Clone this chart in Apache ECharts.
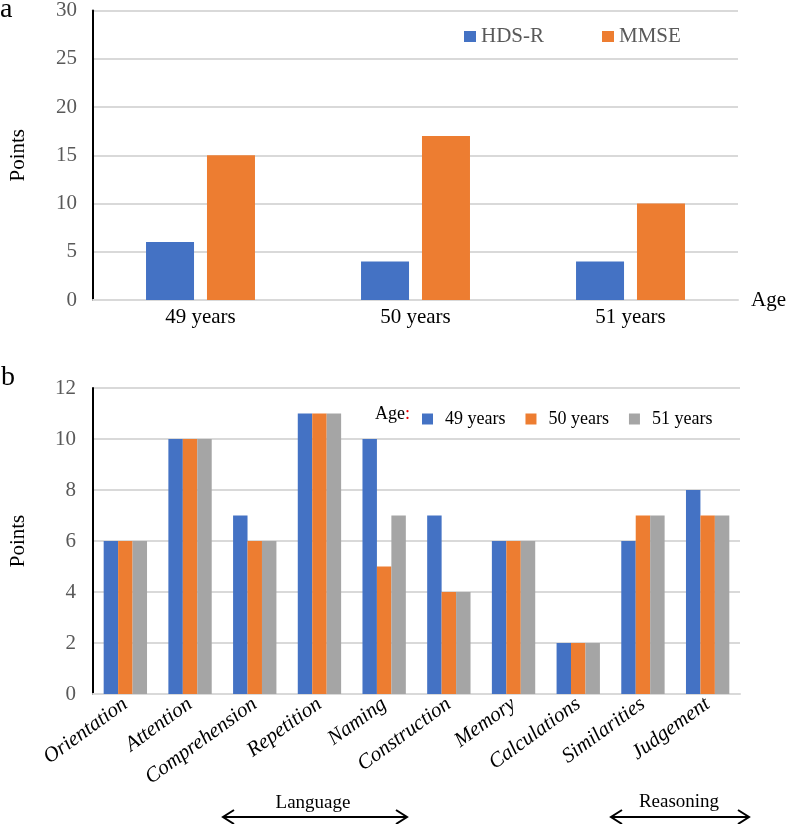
<!DOCTYPE html>
<html>
<head>
<meta charset="utf-8">
<script src="https://cdn.jsdelivr.net/npm/echarts@6/dist/echarts.min.js"></script>
<style>
html,body{margin:0;padding:0;background:#fff;}
#chart{width:787px;height:824px;}
</style>
</head>
<body>
<div id="chart"></div>
<script>
// ---- Panel a data ----
const ageCategories = ['49 years', '50 years', '51 years'];
const hdsrScores = [6, 4, 4];
const mmseScores = [15, 17, 10];

// ---- Panel b data ----
const domains = ['Orientation', 'Attention', 'Comprehension', 'Repetition', 'Naming',
  'Construction', 'Memory', 'Calculations', 'Similarities', 'Judgement'];
const age49 = [6, 10, 7, 11, 10, 7, 6, 2, 6, 8];
const age50 = [6, 10, 6, 11, 5, 4, 6, 2, 7, 7];
const age51 = [6, 10, 6, 11, 7, 4, 6, 2, 7, 7];

const BLUE = '#4472C4', ORANGE = '#ED7D31', GRAY = '#A5A5A5';
const SERIF = '"Liberation Serif", "Times New Roman", serif';
const GRID_LINE = '#d9d9d9';

const chart = echarts.init(document.getElementById('chart'), null, {renderer: 'canvas'});

function arrow(x1, x2, y) {
  const h = 11, v = 7;
  return [
    {type: 'line', shape: {x1: x1, y1: y, x2: x2, y2: y}, style: {stroke: '#000', lineWidth: 2}},
    {type: 'polyline', shape: {points: [[x1 + h, y - v], [x1, y], [x1 + h, y + v]]}, style: {stroke: '#000', lineWidth: 2, fill: null}},
    {type: 'polyline', shape: {points: [[x2 - h, y - v], [x2, y], [x2 - h, y + v]]}, style: {stroke: '#000', lineWidth: 2, fill: null}}
  ];
}

const option = {
  backgroundColor: '#fff',
  animation: false,
  textStyle: {fontFamily: SERIF},
  grid: [
    {left: 93, right: 48, top: 10, bottom: 524},
    {left: 93, right: 47, top: 388, bottom: 130}
  ],
  legend: [
    {
      data: ['HDS-R', 'MMSE'],
      left: 459, top: 21,
      icon: 'rect', itemWidth: 12, itemHeight: 11, itemGap: 58,
      textStyle: {fontFamily: SERIF, fontSize: 21, color: '#595959'}
    },
    {
      data: ['49 years', '50 years', '51 years'],
      left: 417, top: 405,
      icon: 'rect', itemWidth: 11, itemHeight: 11, itemGap: 20,
      textStyle: {fontFamily: SERIF, fontSize: 18, color: '#000', padding: [0, 0, 0, 7]}
    }
  ],
  xAxis: [
    {
      gridIndex: 0, type: 'category', data: ageCategories,
      name: 'Age', nameLocation: 'end', nameGap: 13,
      nameTextStyle: {fontFamily: SERIF, fontSize: 21, color: '#000', padding: [0, 0, 10, 0]},
      axisLine: {lineStyle: {color: GRID_LINE, width: 2}},
      axisTick: {show: false},
      axisLabel: {fontFamily: SERIF, fontSize: 21, color: '#000', margin: 7}
    },
    {
      gridIndex: 1, type: 'category', data: domains,
      axisLine: {lineStyle: {color: GRID_LINE, width: 2}},
      axisTick: {show: false},
      axisLabel: {fontFamily: SERIF, fontSize: 21, fontStyle: 'italic', color: '#000', rotate: 36, margin: 8, interval: 0}
    }
  ],
  yAxis: [
    {
      gridIndex: 0, type: 'value', min: 0, max: 30, interval: 5,
      name: 'Points', nameLocation: 'middle', nameGap: 64,
      nameTextStyle: {fontFamily: SERIF, fontSize: 21, color: '#000'},
      axisLine: {show: true, lineStyle: {color: '#000', width: 2}},
      axisTick: {show: false},
      axisLabel: {fontFamily: SERIF, fontSize: 21, color: '#595959', margin: 16},
      splitLine: {lineStyle: {color: GRID_LINE, width: 2}}
    },
    {
      gridIndex: 1, type: 'value', min: 0, max: 12, interval: 2,
      name: 'Points', nameLocation: 'middle', nameGap: 64,
      nameTextStyle: {fontFamily: SERIF, fontSize: 21, color: '#000'},
      axisLine: {show: true, lineStyle: {color: '#000', width: 2}},
      axisTick: {show: false},
      axisLabel: {fontFamily: SERIF, fontSize: 21, color: '#595959', margin: 17},
      splitLine: {lineStyle: {color: GRID_LINE, width: 2}}
    }
  ],
  series: [
    {name: 'HDS-R', type: 'bar', xAxisIndex: 0, yAxisIndex: 0, data: hdsrScores,
      barWidth: 48, barGap: '27%', itemStyle: {color: BLUE}},
    {name: 'MMSE', type: 'bar', xAxisIndex: 0, yAxisIndex: 0, data: mmseScores,
      barWidth: 48, barGap: '27%', itemStyle: {color: ORANGE}},
    {name: '49 years', type: 'bar', xAxisIndex: 1, yAxisIndex: 1, data: age49,
      barGap: 0, barCategoryGap: '33%', itemStyle: {color: BLUE}},
    {name: '50 years', type: 'bar', xAxisIndex: 1, yAxisIndex: 1, data: age50,
      barGap: 0, barCategoryGap: '33%', itemStyle: {color: ORANGE}},
    {name: '51 years', type: 'bar', xAxisIndex: 1, yAxisIndex: 1, data: age51,
      barGap: 0, barCategoryGap: '33%', itemStyle: {color: GRAY}}
  ],
  graphic: [
    {type: 'text', left: 0, top: -4, style: {text: 'a', fontFamily: SERIF, fontSize: 28, fill: '#000'}},
    {type: 'text', left: 1, top: 364, style: {text: 'b', fontFamily: SERIF, fontSize: 28, fill: '#000'}},
    {type: 'text', left: 375, top: 405, style: {
      text: '{a|Age}{b|:}', rich: {
        a: {fontFamily: SERIF, fontSize: 18, fill: '#000', color: '#000'},
        b: {fontFamily: SERIF, fontSize: 18, fill: '#e00', color: '#e00'}
      }}},
    {type: 'text', x: 313, y: 803, style: {text: 'Language', fontFamily: SERIF, fontSize: 19, fill: '#000', align: 'center', verticalAlign: 'middle'}},
    {type: 'text', x: 679, y: 802, style: {text: 'Reasoning', fontFamily: SERIF, fontSize: 19, fill: '#000', align: 'center', verticalAlign: 'middle'}},
    ...arrow(223, 407, 817),
    ...arrow(611, 749, 817)
  ]
};
chart.setOption(option);
</script>
</body>
</html>
